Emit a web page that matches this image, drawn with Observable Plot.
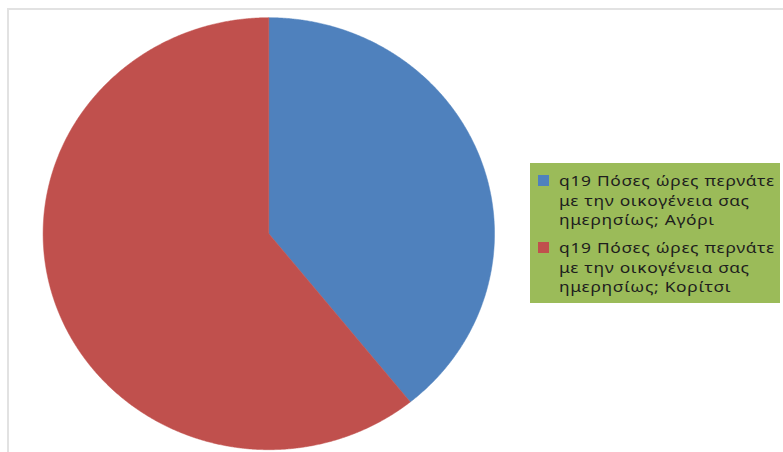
<!DOCTYPE html>
<html>
<head>
<meta charset="utf-8">
<script src="https://cdn.jsdelivr.net/npm/d3@7"></script>
<script src="https://cdn.jsdelivr.net/npm/@observablehq/plot@0.6"></script>
<style>
  html, body { margin: 0; padding: 0; background: #fff; }
  #wrap { position: relative; width: 783px; height: 452px; overflow: hidden; }
  #frame { position: absolute; left: 7px; top: 8px; width: 800px; height: 460px;
           border-top: 2px solid #e2e2e2; border-left: 2px solid #e2e2e2; box-sizing: border-box; }
  #legend { position: absolute; left: 530px; top: 163px; width: 250px; height: 140px;
            background: #9BBB59; box-sizing: border-box; padding: 8px 0 0 8px;
            font-family: "Noto Sans", sans-serif; font-size: 15px; line-height: 19.6px;
            letter-spacing: 0.6px; color: #1e1e1e; }
  .item { display: flex; align-items: flex-start; margin-bottom: 8.5px; }
  .sw { flex: none; width: 11px; height: 11px; margin-top: 4px; margin-right: 10px; }
  .tx { width: 188px; transform: scaleX(1.16); transform-origin: 0 0; }
  #chart svg { position: absolute; left: 0; top: 0; }
</style>
</head>
<body>
<div id="wrap">
  <div id="frame"></div>
  <div id="chart"></div>
  <div id="legend"></div>
</div>
<script>
const categories = [
  "q19 Πόσες ώρες περνάτε με την οικογένεια σας ημερησίως; Αγόρι",
  "q19 Πόσες ώρες περνάτε με την οικογένεια σας ημερησίως; Κορίτσι"
];
const values = [40, 62];
const colors = ["#4F81BD", "#C0504D"];

// Build slice outlines in unit-circle data space (clockwise from 12 o'clock)
const total = d3.sum(values);
const pts = [];
let acc = 0;
values.forEach((v, i) => {
  const a0 = acc / total * 2 * Math.PI;
  acc += v;
  const a1 = acc / total * 2 * Math.PI;
  const n = Math.max(2, Math.ceil((a1 - a0) / 0.005));
  pts.push({cat: categories[i], x: 0, y: 0});
  for (let k = 0; k <= n; k++) {
    const a = a0 + (a1 - a0) * k / n;
    pts.push({cat: categories[i], x: Math.sin(a), y: Math.cos(a)});
  }
  pts.push({cat: categories[i], x: 0, y: 0});
});

const chart = Plot.plot({
  width: 783,
  height: 452,
  margin: 0,
  x: {domain: [-1, 1], range: [42.6, 494], axis: null},
  y: {domain: [-1, 1], range: [449.2, 17.2], axis: null},
  color: {domain: categories, range: colors},
  style: {background: "transparent", overflow: "visible"},
  marks: [
    Plot.line(pts, {x: "x", y: "y", z: "cat", fill: "cat", stroke: "cat", strokeWidth: 0.5, curve: "linear"})
  ]
});
document.getElementById("chart").appendChild(chart);

const legend = document.getElementById("legend");
categories.forEach((c, i) => {
  const item = document.createElement("div");
  item.className = "item";
  const sw = document.createElement("div");
  sw.className = "sw";
  sw.style.background = colors[i];
  const tx = document.createElement("div");
  tx.className = "tx";
  tx.textContent = c;
  item.appendChild(sw);
  item.appendChild(tx);
  legend.appendChild(item);
});
</script>
</body>
</html>
